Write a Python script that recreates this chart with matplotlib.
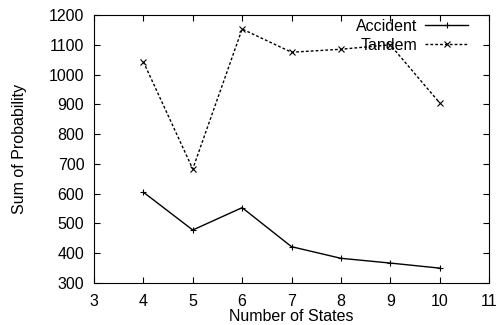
import matplotlib
matplotlib.use("Agg")
import matplotlib.pyplot as plt

plt.rcParams['font.family'] = ['Liberation Sans', 'DejaVu Sans']

states = [4, 5, 6, 7, 8, 9, 10]
accident = [605, 478, 553, 422, 383, 367, 350]
tandem = [1043, 683, 1153, 1075, 1085, 1100, 905]

fig = plt.figure(figsize=(5, 3.25), dpi=100)
ax = fig.add_axes([0.188, 0.1292, 0.79, 0.8246])

ax.plot(states, accident, color='black', lw=1.0, marker='+', ms=5, mew=0.8, label='Accident')
ax.plot(states, tandem, color='black', lw=1.0, ls=(0, (2, 1.5)), marker='x', ms=4, mew=0.8, label='Tandem')

ax.set_xlim(3, 11)
ax.set_ylim(300, 1200)
ax.set_xticks(range(3, 12))
ax.set_yticks(range(300, 1201, 100))
ax.tick_params(direction='in', top=True, right=True, length=4, labelsize=11.5)
ax.tick_params(axis='x', pad=8)
ax.tick_params(axis='y', pad=7)
ax.set_xlabel('Number of States', fontsize=11.5, labelpad=0)
ax.set_ylabel('Sum of Probability', fontsize=11.5, labelpad=16)

leg = ax.legend(loc='upper right', bbox_to_anchor=(0.947, 0.985), frameon=False, fontsize=11.5,
                markerfirst=False, handlelength=2.7, borderpad=0, borderaxespad=0,
                labelspacing=0.25, handletextpad=0.5)
for t in leg.get_texts():
    t.set_ha('right')

fig.savefig('out.png', dpi=100)
